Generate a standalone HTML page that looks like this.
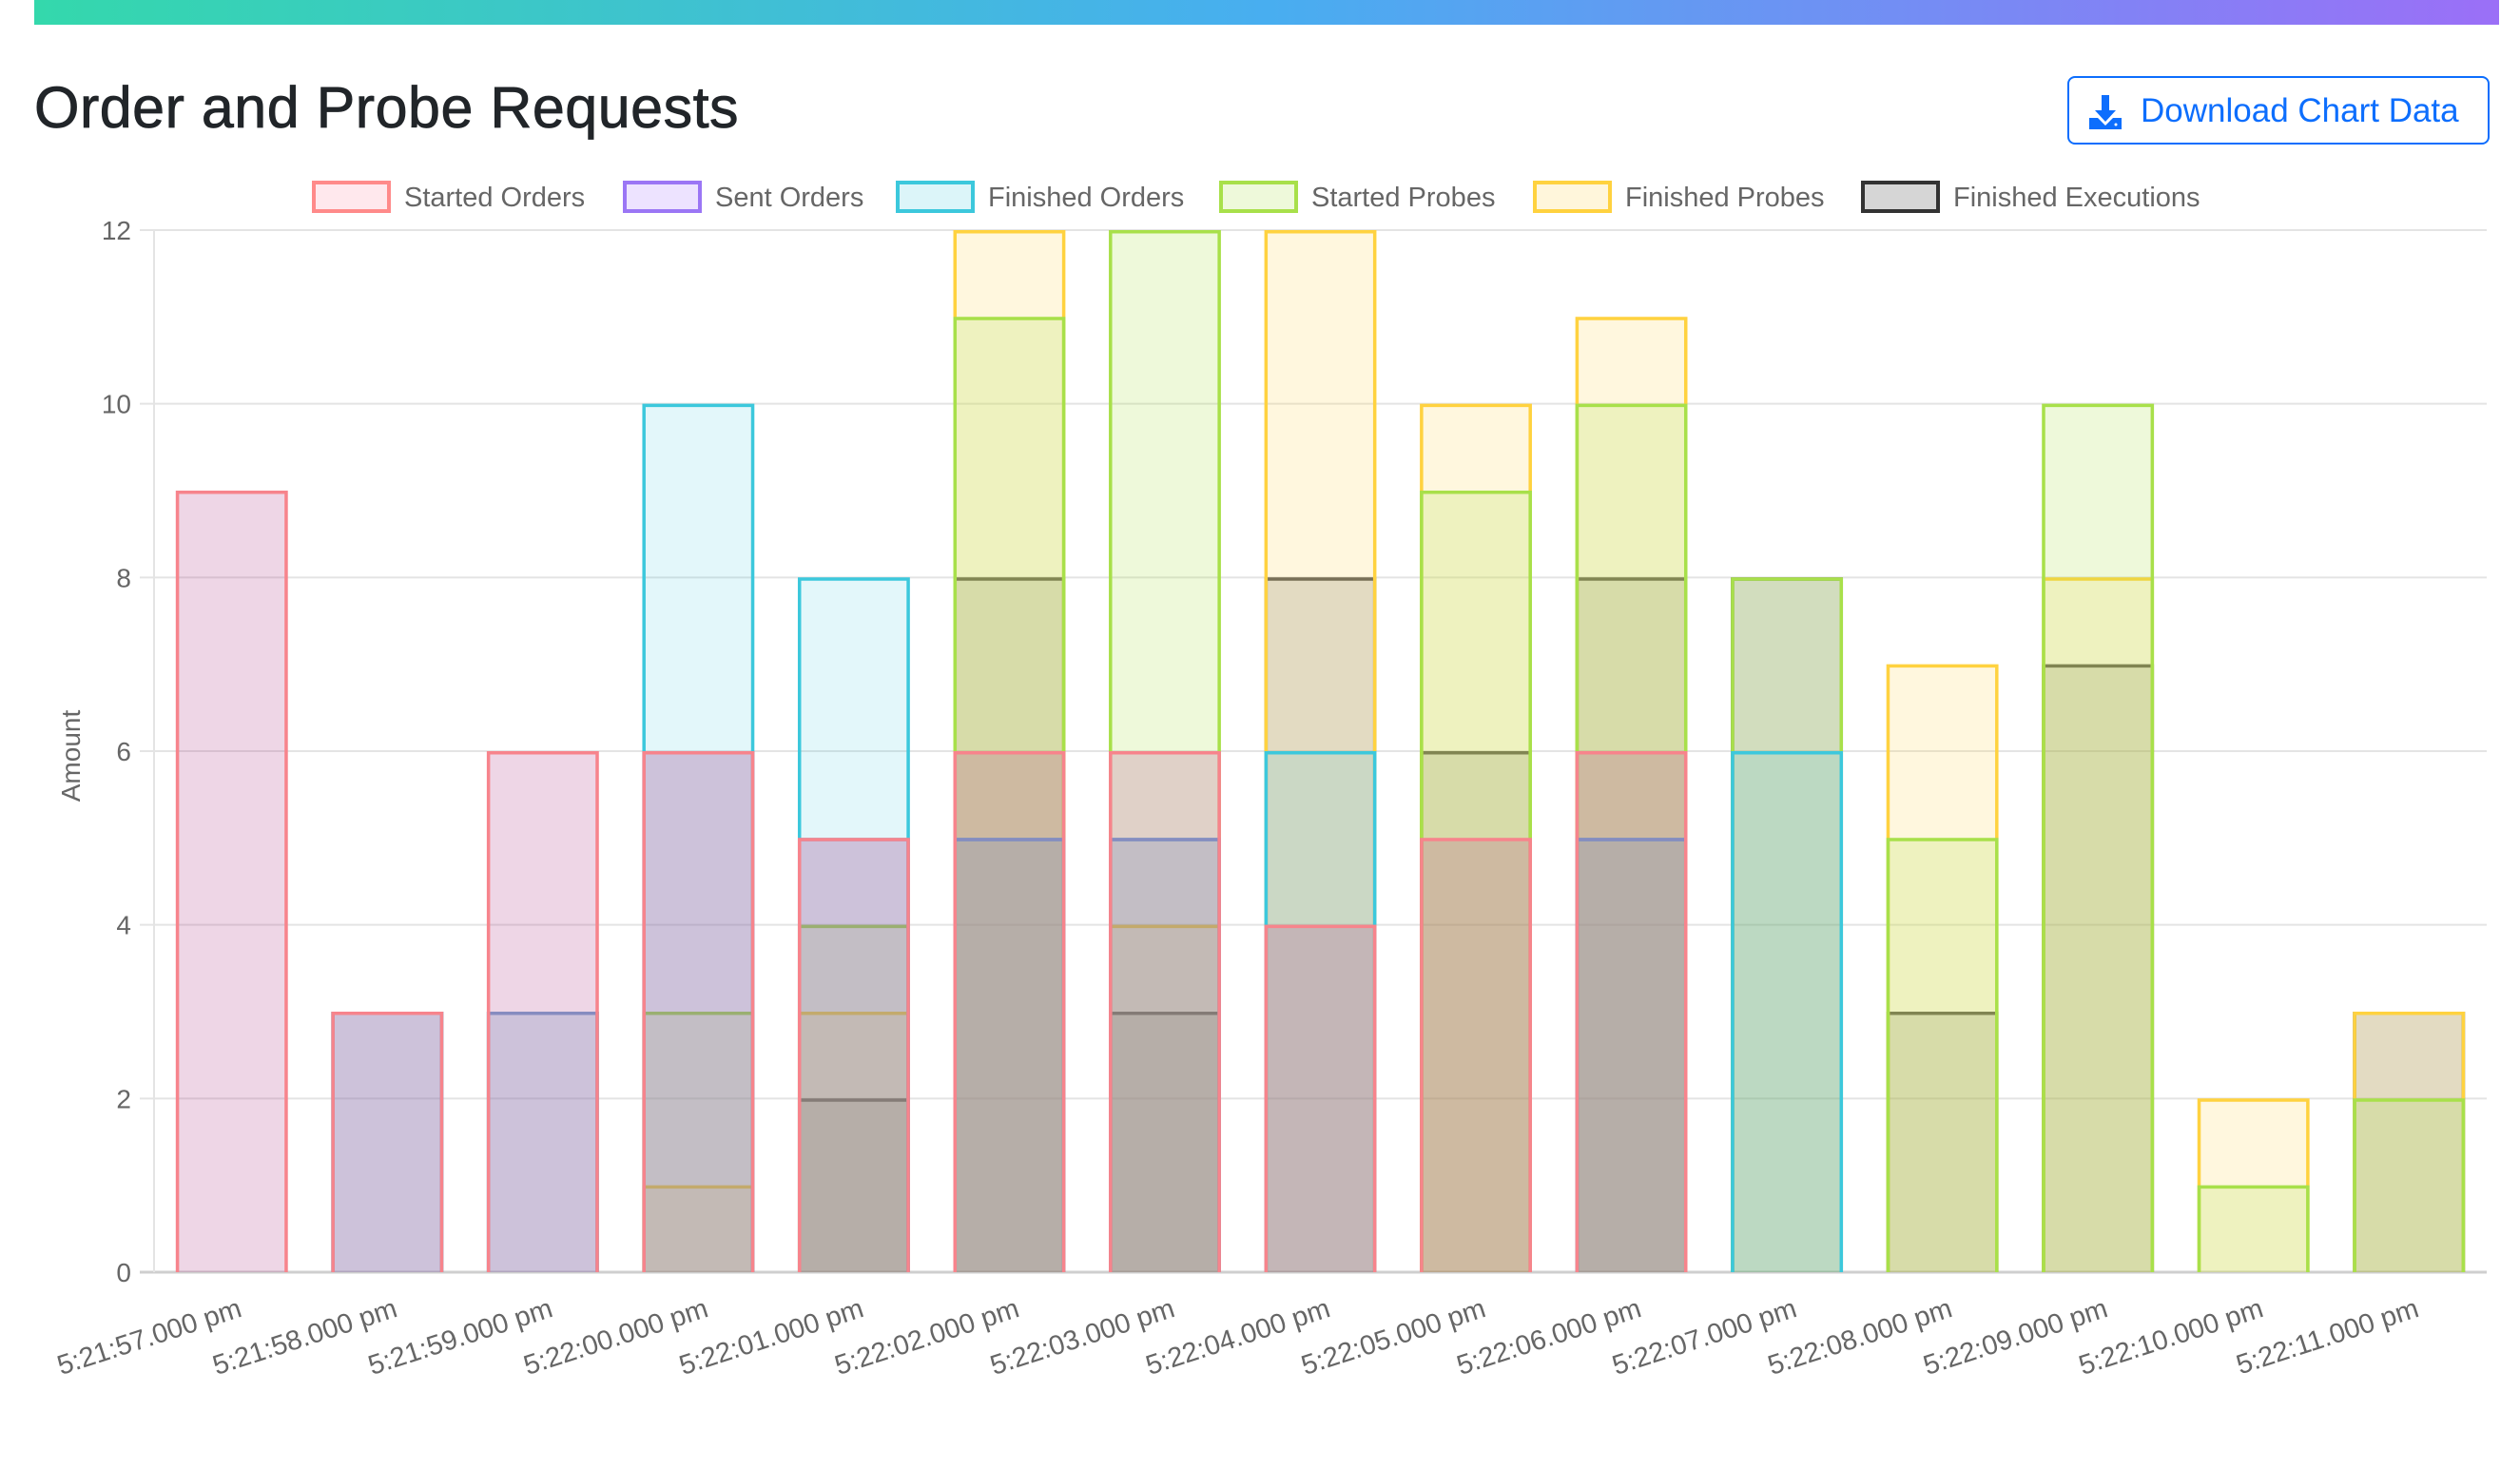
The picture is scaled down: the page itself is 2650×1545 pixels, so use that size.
<!DOCTYPE html>
<html><head><meta charset="utf-8">
<style>
html,body{margin:0;padding:0;background:#fff;}
body{width:2650px;height:1545px;position:relative;overflow:hidden;font-family:"Liberation Sans",sans-serif;}
#topbar{position:absolute;left:36px;top:0;width:2592px;height:26px;background:linear-gradient(90deg,#34d8ac,#48aef0 50%,#9b6ff7);}
#title{position:absolute;left:36px;top:78px;font-size:61px;font-weight:500;color:#212529;letter-spacing:0.5px;-webkit-text-stroke:0.8px #212529;}
#dl{position:absolute;left:2174px;top:80px;width:444px;height:72px;border:2px solid #0d6efd;border-radius:8px;box-sizing:border-box;color:#0d6efd;font-size:35px;}
#dl span{position:absolute;left:75px;top:15px;}
#chart{position:absolute;left:0;top:0;}
</style></head><body>
<div id="topbar"></div>
<div id="title">Order and Probe Requests</div>
<div id="dl">
<svg style="position:absolute;left:18px;top:16px" width="40" height="40" viewBox="0 0 40 40"><path d="M16 2h8v16h7l-11 12-11-12h7z" fill="#0d6efd"/><path d="M3 26h9l8 8 8-8h9v12H3z" fill="#0d6efd"/><circle cx="31" cy="33" r="1.5" fill="#fff"/></svg>
<span>Download Chart Data</span></div>
<svg id="chart" width="2650" height="1545"></svg>
<script>
const categories=["5:21:57.000 pm","5:21:58.000 pm","5:21:59.000 pm","5:22:00.000 pm","5:22:01.000 pm","5:22:02.000 pm","5:22:03.000 pm","5:22:04.000 pm","5:22:05.000 pm","5:22:06.000 pm","5:22:07.000 pm","5:22:08.000 pm","5:22:09.000 pm","5:22:10.000 pm","5:22:11.000 pm"];
const startedOrders=[9,3,6,6,5,6,6,4,5,6,0,0,0,0,0];
const sentOrders=[0,3,3,6,5,5,5,0,0,5,0,0,0,0,0];
const finishedOrders=[0,3,3,10,8,5,5,6,0,5,6,0,0,0,0];
const startedProbes=[0,0,0,3,4,11,12,0,9,10,8,5,10,1,2];
const finishedProbes=[0,0,0,1,3,12,4,12,10,11,0,7,8,2,3];
const finishedExecutions=[0,0,0,0,2,8,3,8,6,8,8,3,7,0,3];
const yTicks=[0,2,4,6,8,10,12];
const seriesNames=["Started Orders","Sent Orders","Finished Orders","Started Probes","Finished Probes","Finished Executions"];

const NS="http://www.w3.org/2000/svg";
const svg=document.getElementById('chart');
const L=162,R=2615,T=242,B=1338,yMax=12;
const yS=v=>B-(v/yMax)*(B-T);
const step=(R-L)/categories.length;
const xC=i=>L+step*(i+0.5);
const bw=step*0.72;
function mk(t,a){const e=document.createElementNS(NS,t);for(const k in a)e.setAttribute(k,a[k]);svg.appendChild(e);return e;}
yTicks.forEach(v=>{
 const g=mk('line',{x1:147,x2:R,y1:yS(v),y2:yS(v),stroke:v===0?'#cfcfcf':'#e4e4e4','stroke-width':v===0?3:2});
 
 
 const t=mk('text',{x:138,y:yS(v)+10,'text-anchor':'end','font-size':28,fill:'#666','font-family':'Liberation Sans, sans-serif'});
 t.textContent=v;
 
 
});
const ax=mk('line',{x1:L,x2:L,y1:T,y2:B,stroke:'#e4e4e4','stroke-width':2});


const yt=mk('text',{x:0,y:0,'text-anchor':'middle','font-size':28,fill:'#666','font-family':'Liberation Sans, sans-serif',transform:'translate(84,795) rotate(-90)'});
yt.textContent='Amount';


const series=[
 {d:finishedExecutions,fill:'rgba(51,51,51,0.17)',stroke:'#555',n:'finished-executions'},
 {d:finishedProbes,fill:'rgba(255,215,90,0.2)',stroke:'#ffd23f',n:'finished-probes'},
 {d:startedProbes,fill:'rgba(170,225,70,0.2)',stroke:'#a8e04a',n:'started-probes'},
 {d:finishedOrders,fill:'rgba(60,200,220,0.14)',stroke:'#3cc8dc',n:'finished-orders'},
 {d:sentOrders,fill:'rgba(150,140,190,0.16)',stroke:'#7ea3d0',n:'sent-orders'},
 {d:startedOrders,fill:'rgba(170,50,130,0.2)',stroke:'#f7848c',n:'started-orders'}
];
series.forEach(s=>{
 s.d.forEach((v,i)=>{
  if(v<=0)return;
  const x0=xC(i)-bw/2,x1=xC(i)+bw/2,y=yS(v);
  const r=mk('rect',{x:x0,y:y,width:bw,height:B-y,fill:s.fill});
  
  
  const p=mk('path',{d:`M${x0+1.7},${B} V${y+1.7} H${x1-1.7} V${B}`,fill:'none',stroke:s.stroke,'stroke-width':3.5});
  
  
 });
});
categories.forEach((c,i)=>{
 const t=mk('text',{x:0,y:0,'text-anchor':'end','font-size':29,fill:'#666','font-family':'Liberation Sans, sans-serif',transform:`translate(${xC(i)+12},${1384}) rotate(-18)`});
 t.textContent=c;
 
 
});
const legFill=['rgba(255,99,132,0.15)','rgba(153,102,255,0.18)','rgba(60,200,220,0.18)','rgba(170,225,70,0.2)','rgba(255,215,90,0.22)','rgba(51,51,51,0.2)'];
const legStroke=['#ff8a8a','#9b76f5','#3cc8dc','#a8e04a','#ffd23f','#333'];
const legX=[328,655,942,1282,1612,1957];
seriesNames.forEach((n,i)=>{
 const b=mk('rect',{x:legX[i]+2,y:192,width:79,height:30,fill:legFill[i],stroke:legStroke[i],'stroke-width':4});
 
 
 const t=mk('text',{x:legX[i]+97,y:217,'font-size':29,fill:'#666','font-family':'Liberation Sans, sans-serif'});
 t.textContent=n;
 
 
});
</script>
</body></html>
